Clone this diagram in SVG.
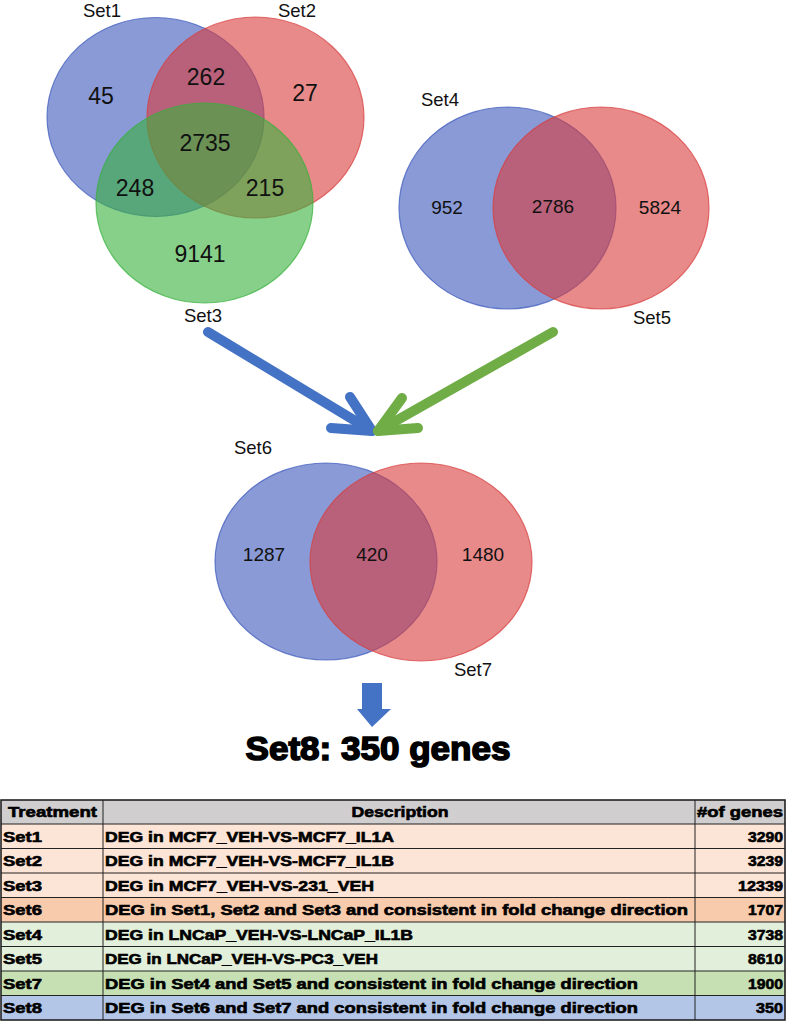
<svg xmlns="http://www.w3.org/2000/svg" width="787" height="1023" viewBox="0 0 787 1023">
<style>
.lbl{font-family:"Liberation Sans",Arial,sans-serif;fill:#111;}
.num{font-family:"Liberation Sans",Arial,sans-serif;fill:#111;text-anchor:middle;}
.blue{fill:#3A57BB;fill-opacity:0.6;stroke:#3A57BB;stroke-opacity:0.7;stroke-width:1.2;}
.red{fill:#D93C3C;fill-opacity:0.6;stroke:#D93C3C;stroke-opacity:0.7;stroke-width:1.2;}
.green{fill:#37B13C;fill-opacity:0.6;stroke:#37B13C;stroke-opacity:0.7;stroke-width:1.2;}
.tt{font-family:"Liberation Sans",Arial,sans-serif;font-weight:bold;font-size:14.5px;fill:#000;stroke:#000;stroke-width:0.6;}
.cell{stroke:#222;stroke-width:1;}
</style>
<rect width="787" height="1023" fill="#fff"/>

<g id="venn1">
<ellipse class="blue" cx="155.5" cy="117" rx="108.5" ry="99.5"/>
<ellipse class="red" cx="255.5" cy="117.5" rx="108.5" ry="100.5"/>
<ellipse class="green" cx="204.5" cy="203" rx="108.5" ry="100"/>
<text class="lbl" x="102" y="17" font-size="18.5" text-anchor="middle">Set1</text>
<text class="lbl" x="297" y="17" font-size="18.5" text-anchor="middle">Set2</text>
<text class="lbl" x="203" y="322" font-size="18.5" text-anchor="middle">Set3</text>
<text class="num" x="101" y="104" font-size="23">45</text>
<text class="num" x="206" y="85" font-size="23">262</text>
<text class="num" x="305" y="101" font-size="23">27</text>
<text class="num" x="205" y="151" font-size="23">2735</text>
<text class="num" x="135" y="196" font-size="23">248</text>
<text class="num" x="265" y="196" font-size="23">215</text>
<text class="num" x="200" y="262" font-size="23">9141</text>
</g>

<g id="venn2">
<ellipse class="blue" cx="507.5" cy="208" rx="108.5" ry="101"/>
<ellipse class="red" cx="601" cy="208" rx="108" ry="101"/>
<text class="lbl" x="440" y="106" font-size="18.5" text-anchor="middle">Set4</text>
<text class="lbl" x="652" y="324" font-size="18.5" text-anchor="middle">Set5</text>
<text class="num" x="447" y="214" font-size="19">952</text>
<text class="num" x="553" y="213" font-size="19">2786</text>
<text class="num" x="660" y="214" font-size="19">5824</text>
</g>

<g id="connectors" fill="none" stroke-linecap="round" stroke-linejoin="round">
<g stroke="#4472C4" stroke-width="10">
<line x1="208" y1="332" x2="372" y2="431"/>
<polyline points="350,397 372,431 331,428"/>
</g>
<g stroke="#70AD47" stroke-width="10">
<line x1="553" y1="332" x2="378" y2="431"/>
<polyline points="402,398 378,431 418,428"/>
</g>
<polygon points="362,683 382,683 382,709 391,709 372,727 357,709 362,709" fill="#4472C4" stroke="none"/>
</g>

<g id="venn3">
<ellipse class="blue" cx="326" cy="561.5" rx="111" ry="98.5"/>
<ellipse class="red" cx="421" cy="562" rx="111" ry="99"/>
<text class="lbl" x="253" y="454" font-size="18.5" text-anchor="middle">Set6</text>
<text class="lbl" x="473" y="676" font-size="18.5" text-anchor="middle">Set7</text>
<text class="num" x="264" y="561" font-size="19">1287</text>
<text class="num" x="372" y="561" font-size="19">420</text>
<text class="num" x="483" y="561" font-size="19">1480</text>
</g>

<g id="set8-title">
<text x="378" y="760" font-family="'Liberation Sans',Arial,sans-serif" font-weight="bold" font-size="34" text-anchor="middle" stroke="#000" stroke-width="1.6" textLength="265" lengthAdjust="spacingAndGlyphs">Set8: 350 genes</text>
</g>

<g id="table">
<rect x="1" y="800" width="784" height="24" fill="#D0CECE"/>
<rect x="1" y="824" width="784" height="73.5" fill="#FCE4D6"/>
<rect x="1" y="897.5" width="784" height="24.5" fill="#F8CBAD"/>
<rect x="1" y="922" width="784" height="49" fill="#E2EFDA"/>
<rect x="1" y="971" width="784" height="24.5" fill="#C6E0B4"/>
<rect x="1" y="995.5" width="784" height="24.5" fill="#B4C6E7"/>
<g class="cell">
<line x1="1" y1="824" x2="785" y2="824"/>
<line x1="1" y1="848.5" x2="785" y2="848.5"/>
<line x1="1" y1="873" x2="785" y2="873"/>
<line x1="1" y1="897.5" x2="785" y2="897.5"/>
<line x1="1" y1="922" x2="785" y2="922"/>
<line x1="1" y1="946.5" x2="785" y2="946.5"/>
<line x1="1" y1="971" x2="785" y2="971"/>
<line x1="1" y1="995.5" x2="785" y2="995.5"/>
<line x1="103" y1="800" x2="103" y2="1020"/>
<line x1="695" y1="800" x2="695" y2="1020"/>
<rect x="1" y="800" width="784" height="220" fill="none" stroke-width="1.6"/>
</g>
<text class="tt" x="8" y="817" textLength="89" lengthAdjust="spacingAndGlyphs">Treatment</text>
<text class="tt" x="400" y="817" text-anchor="middle" textLength="97" lengthAdjust="spacingAndGlyphs">Description</text>
<text class="tt" x="697" y="817" textLength="86" lengthAdjust="spacingAndGlyphs">#of genes</text>

<text class="tt" x="3" y="841.5" textLength="39" lengthAdjust="spacingAndGlyphs">Set1</text>
<text class="tt" x="105" y="841.5" textLength="289" lengthAdjust="spacingAndGlyphs">DEG in MCF7_VEH-VS-MCF7_IL1A</text>
<text class="tt" x="783" y="841.5" text-anchor="end" textLength="35" lengthAdjust="spacingAndGlyphs">3290</text>

<text class="tt" x="3" y="866" textLength="39" lengthAdjust="spacingAndGlyphs">Set2</text>
<text class="tt" x="105" y="866" textLength="289" lengthAdjust="spacingAndGlyphs">DEG in MCF7_VEH-VS-MCF7_IL1B</text>
<text class="tt" x="783" y="866" text-anchor="end" textLength="35" lengthAdjust="spacingAndGlyphs">3239</text>

<text class="tt" x="3" y="890.5" textLength="39" lengthAdjust="spacingAndGlyphs">Set3</text>
<text class="tt" x="105" y="890.5" textLength="269" lengthAdjust="spacingAndGlyphs">DEG in MCF7_VEH-VS-231_VEH</text>
<text class="tt" x="783" y="890.5" text-anchor="end" textLength="45" lengthAdjust="spacingAndGlyphs">12339</text>

<text class="tt" x="3" y="915" textLength="39" lengthAdjust="spacingAndGlyphs">Set6</text>
<text class="tt" x="105" y="915" textLength="583" lengthAdjust="spacingAndGlyphs">DEG in Set1, Set2 and Set3 and consistent in fold change direction</text>
<text class="tt" x="783" y="915" text-anchor="end" textLength="35" lengthAdjust="spacingAndGlyphs">1707</text>

<text class="tt" x="3" y="939.5" textLength="39" lengthAdjust="spacingAndGlyphs">Set4</text>
<text class="tt" x="105" y="939.5" textLength="308" lengthAdjust="spacingAndGlyphs">DEG in LNCaP_VEH-VS-LNCaP_IL1B</text>
<text class="tt" x="783" y="939.5" text-anchor="end" textLength="35" lengthAdjust="spacingAndGlyphs">3738</text>

<text class="tt" x="3" y="964" textLength="39" lengthAdjust="spacingAndGlyphs">Set5</text>
<text class="tt" x="105" y="964" textLength="273" lengthAdjust="spacingAndGlyphs">DEG in LNCaP_VEH-VS-PC3_VEH</text>
<text class="tt" x="783" y="964" text-anchor="end" textLength="35" lengthAdjust="spacingAndGlyphs">8610</text>

<text class="tt" x="3" y="988.5" textLength="39" lengthAdjust="spacingAndGlyphs">Set7</text>
<text class="tt" x="105" y="988.5" textLength="533" lengthAdjust="spacingAndGlyphs">DEG in Set4 and Set5 and consistent in fold change direction</text>
<text class="tt" x="783" y="988.5" text-anchor="end" textLength="35" lengthAdjust="spacingAndGlyphs">1900</text>

<text class="tt" x="3" y="1013" textLength="39" lengthAdjust="spacingAndGlyphs">Set8</text>
<text class="tt" x="105" y="1013" textLength="533" lengthAdjust="spacingAndGlyphs">DEG in Set6 and Set7 and consistent in fold change direction</text>
<text class="tt" x="783" y="1013" text-anchor="end" textLength="27" lengthAdjust="spacingAndGlyphs">350</text>
</g>
</svg>
